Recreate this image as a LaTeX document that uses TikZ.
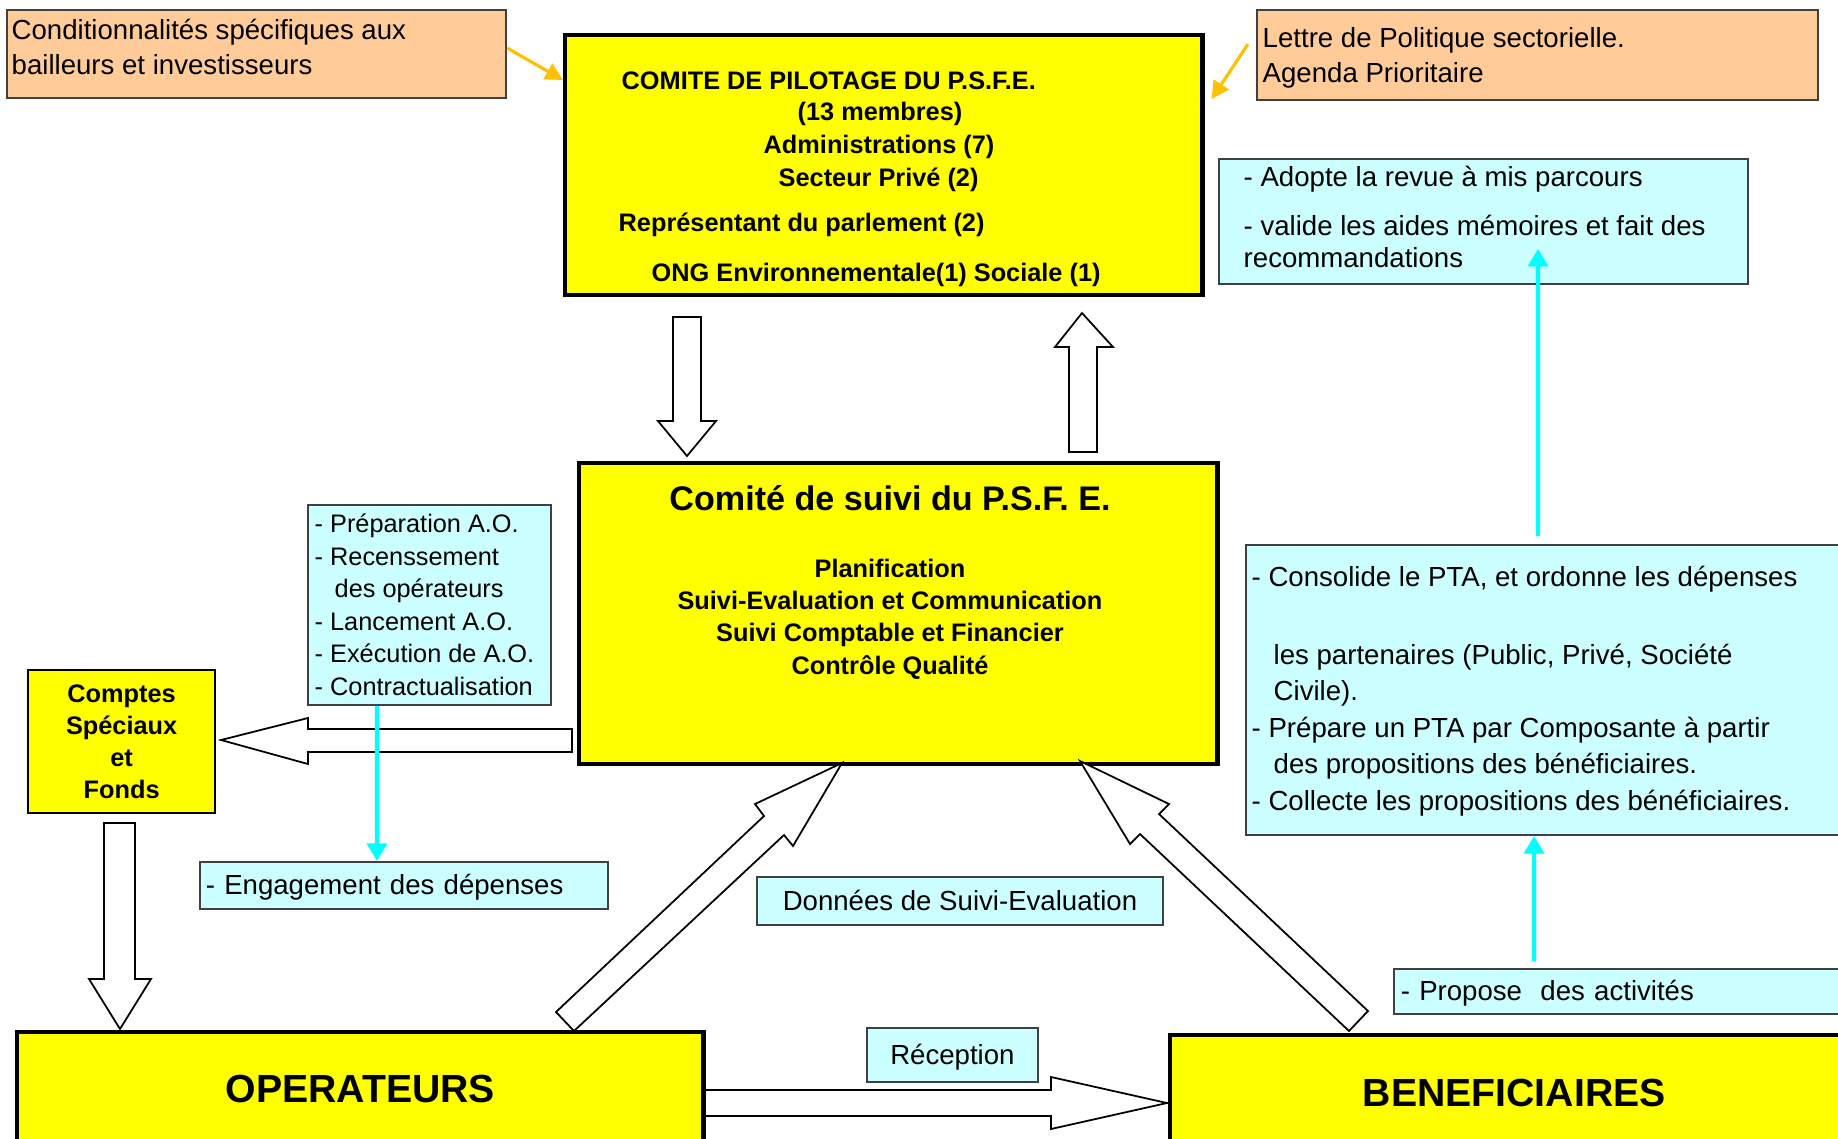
\documentclass[tikz,border=0pt]{standalone}
\usepackage{fontspec}
\setmainfont{Liberation Sans}
\usetikzlibrary{arrows.meta}

\definecolor{psyellow}{RGB}{255,255,0}
\definecolor{pscyan}{RGB}{204,255,255}
\definecolor{psorange}{RGB}{255,204,153}
\definecolor{psline}{RGB}{0,255,255}
\definecolor{psgold}{RGB}{255,192,0}

\tikzset{
  yellowbox/.style={draw=black, line width=1.2pt, fill=psyellow, inner sep=0pt, anchor=north west},
  yellowthin/.style={draw=black, line width=0.6pt, fill=psyellow, inner sep=0pt, anchor=north west},
  cyanbox/.style={draw=black!75, line width=0.5pt, fill=pscyan, inner sep=0pt, anchor=north west},
  orangebox/.style={draw=black!75, line width=0.6pt, fill=psorange, inner sep=0pt, anchor=north west},
  txt/.style={inner sep=0pt, align=left, anchor=north west},
  oneline/.style={text height=5.2pt, text depth=0pt, font=\fontsize{7.85}{10}\selectfont},
  boldline/.style={inner sep=0pt, anchor=west, text height=5.2pt, text depth=0pt, font=\bfseries\fontsize{7.2}{9}\selectfont},
  hollow/.style={draw=black, fill=white, line width=0.5pt, line join=miter},
  cyanarrow/.style={psline, line width=1.2pt, -{Triangle[width=5.6pt, length=5pt]}},
  goldarrow/.style={psgold, line width=0.9pt, -{Triangle[width=5pt, length=5pt]}}
}

\begin{document}
\begin{tikzpicture}[x=0.01cm, y=-0.01cm]

\useasboundingbox (0,0) rectangle (1838,1138);
\clip (0,0) rectangle (1838,1138);

\node[orangebox, minimum width=4.99cm, minimum height=0.88cm] (cond) at (6,9) {};
\node[orangebox, minimum width=5.61cm, minimum height=0.90cm] (lettre) at (1256,9) {};
\node[yellowbox, minimum width=6.37cm, minimum height=2.60cm] (pilot) at (563,33) {};
\node[cyanbox, minimum width=5.29cm, minimum height=1.25cm] (adopte) at (1218,158) {};
\node[yellowbox, minimum width=6.38cm, minimum height=3.01cm] (suivi) at (577,461) {};
\node[cyanbox, minimum width=2.43cm, minimum height=2.00cm] (listAO) at (307,504) {};
\node[cyanbox, minimum width=6.05cm, minimum height=2.90cm] (cons) at (1245,544) {};

\node[yellowthin, minimum width=1.87cm, minimum height=1.43cm, align=center,
  font=\bfseries\fontsize{7.2}{9.1}\selectfont] (comptes) at (27,669) {Comptes\\Spéciaux\\et\\Fonds};
\node[cyanbox, oneline, minimum width=4.08cm, minimum height=0.47cm, text width=3.96cm,
  inner xsep=0.06cm, align=left] (engage) at (199,861) {- Engagement des dépenses};
\node[cyanbox, oneline, minimum width=4.06cm, minimum height=0.48cm] (donnees) at (756,876) {Données de Suivi-Evaluation};
\node[cyanbox, oneline, minimum width=4.57cm, minimum height=0.45cm, text width=4.43cm,
  inner xsep=0.07cm, align=left] (propose) at (1393,968) {- Propose\ \ des activités};
\node[cyanbox, oneline, minimum width=1.71cm, minimum height=0.54cm] (reception) at (866,1027) {Réception};
\node[yellowbox, minimum width=6.86cm, minimum height=1.13cm, text height=7.9pt, text depth=0pt,
  font=\bfseries\fontsize{11.15}{13}\selectfont] (oper) at (15,1030) {OPERATEURS};
\node[yellowbox, minimum width=6.88cm, minimum height=1.14cm, text height=7.9pt, text depth=0pt,
  font=\bfseries\fontsize{11.15}{13}\selectfont] (benef) at (1168,1033) {BENEFICIAIRES};

\node[txt, font=\fontsize{7.85}{10}\selectfont] (condtxt) at (11,18)
  {Conditionnalités spécifiques aux\\bailleurs et investisseurs};
\node[txt, font=\fontsize{7.85}{10}\selectfont] (lettretxt) at (1262,27)
  {Lettre de Politique sectorielle.\\Agenda Prioritaire};
\node[txt, font=\fontsize{7.85}{9.1}\selectfont] (adoptetxt) at (1243,165)
  {- Adopte la revue à mis parcours\\[5.1pt]- valide les aides mémoires et fait des\\recommandations};
\node[txt, font=\fontsize{7.2}{9.28}\selectfont] (aotxt) at (314,513)
  {- Préparation A.O.\\- Recenssement\\\hspace*{0.2cm}des opérateurs\\- Lancement A.O.\\- Exécution de A.O.\\- Contractualisation};
\node[txt, font=\fontsize{7.85}{10.4}\selectfont] (constxt) at (1251,565)
  {- Consolide le PTA, et ordonne les dépenses\\[11.8pt]\hspace*{0.22cm}les partenaires (Public, Privé, Société\\\hspace*{0.22cm}Civile).\\- Prépare un PTA par Composante à partir\\\hspace*{0.22cm}des propositions des bénéficiaires.\\- Collecte les propositions des bénéficiaires.};

\foreach \x/\y/\t [count=\i] in {621/80/{COMITE DE PILOTAGE DU P.S.F.E.}, 797/111/{(13 membres)},
    763/144/{Administrations (7)}, 778/177/{Secteur Privé (2)},
    618/222/{Représentant du parlement (2)}, 651/272/{ONG Environnementale(1) Sociale (1)}}
  \node[boldline] (pil\i) at (\x,\y) {\t};

\node[inner sep=0pt, text height=6.9pt, text depth=0pt, font=\bfseries\fontsize{9.7}{11}\selectfont]
  (suivititle) at (890,498) {Comité de suivi du P.S.F. E.};
\node[inner sep=0pt, align=center, anchor=north, font=\bfseries\fontsize{7.2}{9.2}\selectfont]
  (suivitxt) at (890,558) {Planification\\Suivi-Evaluation et Communication\\Suivi Comptable et Financier\\Contrôle Qualité};

\draw[hollow] (673,317) -- (701,317) -- (701,421) -- (716,421) -- (687,456) -- (658,421) -- (673,421) -- cycle;
\draw[hollow] (1069,452) -- (1097,452) -- (1097,347) -- (1113,347) -- (1082,313) -- (1055,347) -- (1069,347) -- cycle;
\draw[hollow] (572,729) -- (308,729) -- (308,718) -- (221,740) -- (308,764) -- (308,752) -- (572,752) -- cycle;
\draw[hollow] (104,823) -- (135,823) -- (135,979) -- (151,979) -- (120,1029) -- (89,979) -- (104,979) -- cycle;
\draw[hollow] (705,1090) -- (1051,1090) -- (1051,1077) -- (1167,1103) -- (1051,1129) -- (1051,1116) -- (705,1116) -- cycle;
\draw[hollow] (842,763) -- (755,804) -- (764,816) -- (556,1012) -- (574,1031) -- (784,835) -- (793,846) -- cycle;
\draw[hollow] (1080,761) -- (1169,804) -- (1159,814) -- (1368,1011) -- (1349,1031) -- (1140,834) -- (1130,844) -- cycle;

\draw[goldarrow] ([yshift=0.06cm]cond.east) -- ([yshift=-0.47cm]pilot.north west);
\draw[goldarrow] ([xshift=-0.08cm, yshift=0.11cm]lettre.west) -- ([xshift=0.07cm, yshift=-0.66cm]pilot.north east);

\draw[cyanarrow] ([xshift=-0.525cm]listAO.south) -- ([xshift=-0.27cm]engage.north);
\draw[cyanarrow] ([xshift=-0.105cm, yshift=0.08cm]cons.north) -- ([xshift=0.545cm, yshift=0.36cm]adopte.south);
\draw[cyanarrow] ([xshift=-0.885cm, yshift=0.07cm]propose.north) -- ([xshift=-0.145cm]cons.south);

\end{tikzpicture}
\end{document}
